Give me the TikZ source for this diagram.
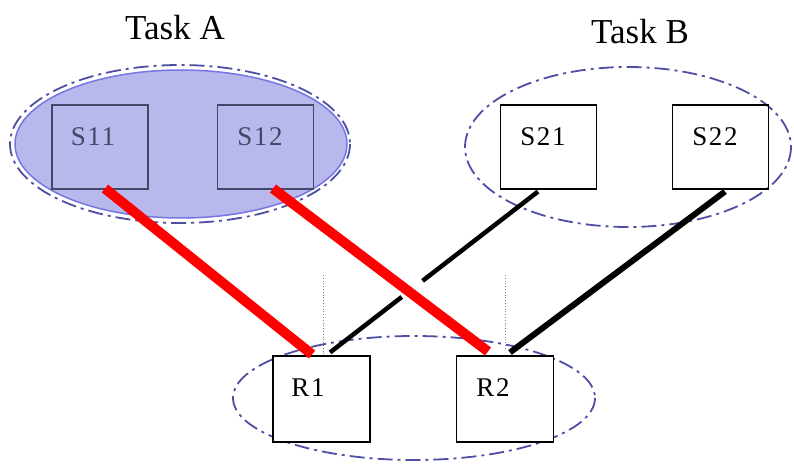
\documentclass[tikz,border=0pt]{standalone}
\usepackage{fontspec}
\setmainfont{Liberation Serif}
\newfontfamily\lblfont[LetterSpace=6]{Liberation Serif}
\usetikzlibrary{calc}
\definecolor{afill}{RGB}{184,184,236}
\definecolor{aedge}{RGB}{118,118,226}
\definecolor{dd}{RGB}{78,78,165}
\definecolor{boxa}{RGB}{70,70,105}
\definecolor{redl}{RGB}{255,0,0}
\tikzset{
  ddash/.style={draw=dd, line width=1.8pt, dash pattern=on 15pt off 5pt on 3pt off 5pt},
  sbox/.style={draw=black, line width=1.1pt, minimum width=96pt, minimum height=84pt, inner sep=0pt},
  sboxa/.style={draw=boxa, line width=1.1pt, minimum width=96pt, minimum height=84pt, inner sep=0pt},
  lbl/.style={font=\lblfont\fontsize{27}{30}\selectfont, inner sep=0pt},
  ttl/.style={font=\fontsize{35}{40}\selectfont, inner sep=0pt},
  redline/.style={draw=redl, line width=10pt},
  blkline/.style={draw=black, line width=4.5pt},
  blkline2/.style={draw=black, line width=6pt},
  vdot/.style={draw=gray, line width=0.8pt, dotted}
}
\begin{document}
\begin{tikzpicture}[x=1pt,y=-1pt]
\useasboundingbox (0,0) rectangle (794,463);
% titles
\node[ttl] (TA) at (175,28) {Task A};
\node[ttl] (TB) at (640,32) {Task B};
% ellipses
\fill[afill] (181,144) ellipse [x radius=166, y radius=74];
\draw[aedge, line width=1.5pt] (181,144) ellipse [x radius=166, y radius=74];
\draw[ddash] (180,144) ellipse [x radius=170, y radius=79];
\draw[ddash] (628,147) ellipse [x radius=163, y radius=80];
\draw[ddash] (414,398) ellipse [x radius=181, y radius=62];
% boxes
\node[sboxa] (S11) at (100,147) {};
\node[sboxa] (S12) at (265.5,147) {};
\node[sbox] (S21) at (548.5,147) {};
\node[sbox] (S22) at (720.5,147) {};
\node[sbox, minimum height=86pt, minimum width=97pt, fill=white] (R1) at (321.5,399) {};
\node[sbox, minimum height=86pt, minimum width=97pt, fill=white] (R2) at (505,399) {};
% labels
\node[lbl, text=boxa] (L11) at (93,137) {S11};
\node[lbl, text=boxa] (L12) at (260,137) {S12};
\node[lbl] (L21) at (543,137) {S21};
\node[lbl] (L22) at (715,137) {S22};
\node[lbl] (LR1) at (308,388) {R1};
\node[lbl] (LR2) at (493,388) {R2};
% dotted verticals
\coordinate (D1) at (323,275);
\coordinate (D2) at (505,275);
\draw[vdot] (D1) -- ([xshift=1.5pt]R1.north);
\draw[vdot] (D2) -- ([yshift=6pt]R2.north);
% connectors
\coordinate (b1s) at ([xshift=-10.5pt,yshift=-2pt]S21.south);
\coordinate (b1e) at ([xshift=8.5pt,yshift=3pt]R1.north);
\draw[blkline] (b1s) -- ($(b1s)!0.555!(b1e)$);
\draw[blkline] ($(b1s)!0.655!(b1e)$) -- (b1e);
\draw[blkline2] ([xshift=4.5pt,yshift=-2pt]S22.south) -- ([xshift=5pt,yshift=3pt]R2.north);
\draw[redline] ([xshift=5pt,yshift=1pt]S11.south) -- ([xshift=-9.5pt,yshift=1pt]R1.north);
\draw[redline] ([xshift=7.5pt,yshift=1pt]S12.south) -- ([xshift=-17pt,yshift=4pt]R2.north);
\end{tikzpicture}
\end{document}
